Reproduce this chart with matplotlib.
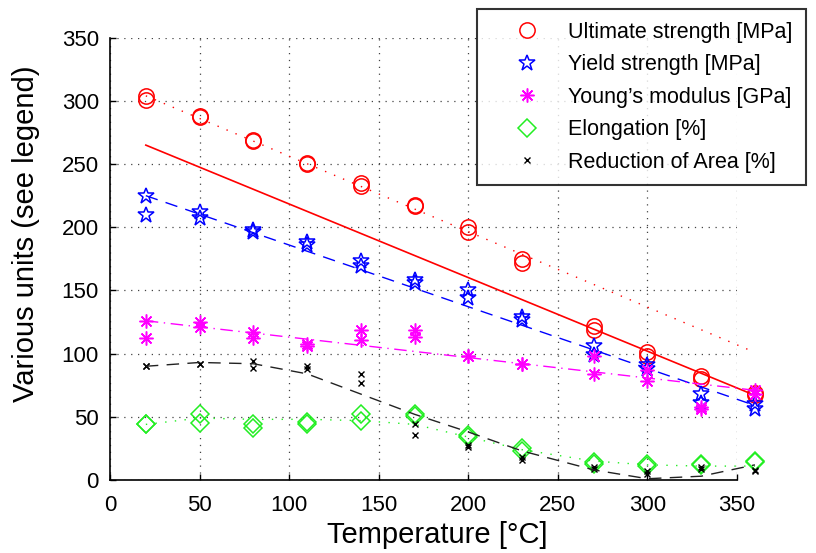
import matplotlib
matplotlib.use("Agg")
import matplotlib.pyplot as plt

plt.rcParams['font.family'] = ['Liberation Sans', 'DejaVu Sans']

# Test temperatures [°C]
temperature = [20, 50, 80, 110, 140, 170, 200, 230, 270, 300, 330, 360]

# Two specimens per temperature
uts_a = [301, 287, 268, 250, 233, 217, 196, 172, 119, 98, 80, 67]
uts_b = [304, 288, 269, 251, 235, 218, 200, 175, 122, 101, 82, 69]
ys_a = [225, 212, 198, 188, 173, 158, 150, 129, 106, 91, 68, 60]
ys_b = [210, 207, 196, 186, 169, 156, 144, 127, 99, 88, 61, 56]
ym_a = [126, 125, 117, 108, 119, 119, 98, 92, 98, 87, 58, 71]
ym_b = [112, 121, 112, 106, 111, 113, 98, 92, 84, 78, 56, 68]
elong_a = [44, 52, 44, 46, 52, 52, 36, 25, 14, 13, 13, 15]
elong_b = [44, 45, 41, 44, 47, 51, 34, 23, 13, 11, 12, 14]
ra_a = [90, 92, 94, 90, 84, 44, 28, 18, 10, 7, 10, 8]
ra_b = [90, 92, 89, 88, 77, 36, 26, 16, 9, 5, 9, 7]

# Trend lines
fit_t = [20, 360]
uts_fit_all = [265, 67]
uts_fit_low = [304, 101]
ys_fit = [225, 59]
ym_fit = [126, 71]
elong_trend = [44, 49, 48, 48, 47, 44, 34, 24, 15, 12, 11, 11]
ra_trend = [90, 93, 92, 84, 68, 52, 38, 23, 8, 1, 3, 12]

labels = ['Ultimate strength [MPa]', 'Yield strength [MPa]',
          "Young\u2019s modulus [GPa]", 'Elongation [%]', 'Reduction of Area [%]']

fig = plt.figure(figsize=(8.16, 5.53), dpi=100)
ax = fig.add_axes([110 / 816, 73 / 553, 627 / 816, 442.3 / 553])

RED, BLUE, MAG, GREEN, BLACK = '#ff0000', '#0000ff', '#ff00ff', '#22ee22', '#000000'
asterisk = (8, 2, 0)

def markers(y, marker, color, size, label=None, mew=1.1):
    return ax.plot(temperature, y, linestyle='none', marker=marker, markersize=size,
                   markerfacecolor='none', markeredgecolor=color, markeredgewidth=mew,
                   clip_on=False, label=label)[0]

h = []
h.append(markers(uts_a, 'o', RED, 11, labels[0]))
markers(uts_b, 'o', RED, 11)
ax.plot(fit_t, uts_fit_all, color=RED, lw=1.2, clip_on=False)
ax.plot(fit_t, uts_fit_low, color=RED, lw=1.0, dashes=(1, 6), clip_on=False)

h.append(markers(ys_a, '*', BLUE, 12, labels[1]))
markers(ys_b, '*', BLUE, 12)
ax.plot(fit_t, ys_fit, color=BLUE, lw=1.0, dashes=(9, 6), clip_on=False)

h.append(markers(ym_a, asterisk, MAG, 10, labels[2], mew=1.1))
markers(ym_b, asterisk, MAG, 10, mew=1.1)
ax.plot(fit_t, ym_fit, color=MAG, lw=1.0, dashes=(9, 4, 1, 4), clip_on=False)

h.append(markers(elong_a, 'D', GREEN, 9, labels[3]))
markers(elong_b, 'D', GREEN, 9)
ax.plot(temperature, elong_trend, color=GREEN, lw=1.0, dashes=(1, 6), clip_on=False)

h.append(markers(ra_a, 'x', BLACK, 5, labels[4], mew=1.0))
markers(ra_b, 'x', BLACK, 5, mew=1.0)
ax.plot(temperature, ra_trend, color='#222222', lw=1.0, dashes=(9, 6), clip_on=False)

ax.set_xlim(0, 350)
ax.set_ylim(0, 350)
ax.set_xticks(range(0, 351, 50))
ax.set_yticks(range(0, 351, 50))
ax.grid(True, color='#444444', linestyle=(0, (1, 4.5)), linewidth=0.9)
ax.set_axisbelow(True)
for s in ('top', 'right'):
    ax.spines[s].set_visible(False)
for s in ('left', 'bottom'):
    ax.spines[s].set_linewidth(1.2)
ax.tick_params(direction='in', length=4, width=1.0, labelsize=16)
ax.tick_params(axis='x', pad=11)
ax.tick_params(axis='y', pad=8)

ax.set_xlabel('Temperature [\u00b0C]', fontsize=21, va='center')
ax.xaxis.set_label_coords((437 - 110) / 627, (480 - 535) / 442.3)
ax.set_ylabel('Various units (see legend)', fontsize=21, va='center')
ax.yaxis.set_label_coords((26 - 110) / 627, (480 - 234) / 442.3)

leg = fig.legend(handles=h, loc='upper left', bbox_to_anchor=(477 / 816, 1 - 9 / 553),
                 fontsize=15.5, frameon=True, fancybox=False, numpoints=1,
                 handlelength=3.4, handletextpad=0.25, labelspacing=0.53,
                 borderpad=0.6, borderaxespad=0)
leg.get_frame().set_edgecolor('black')
leg.get_frame().set_linewidth(1.5)

fig.savefig('out.png', dpi=100)
